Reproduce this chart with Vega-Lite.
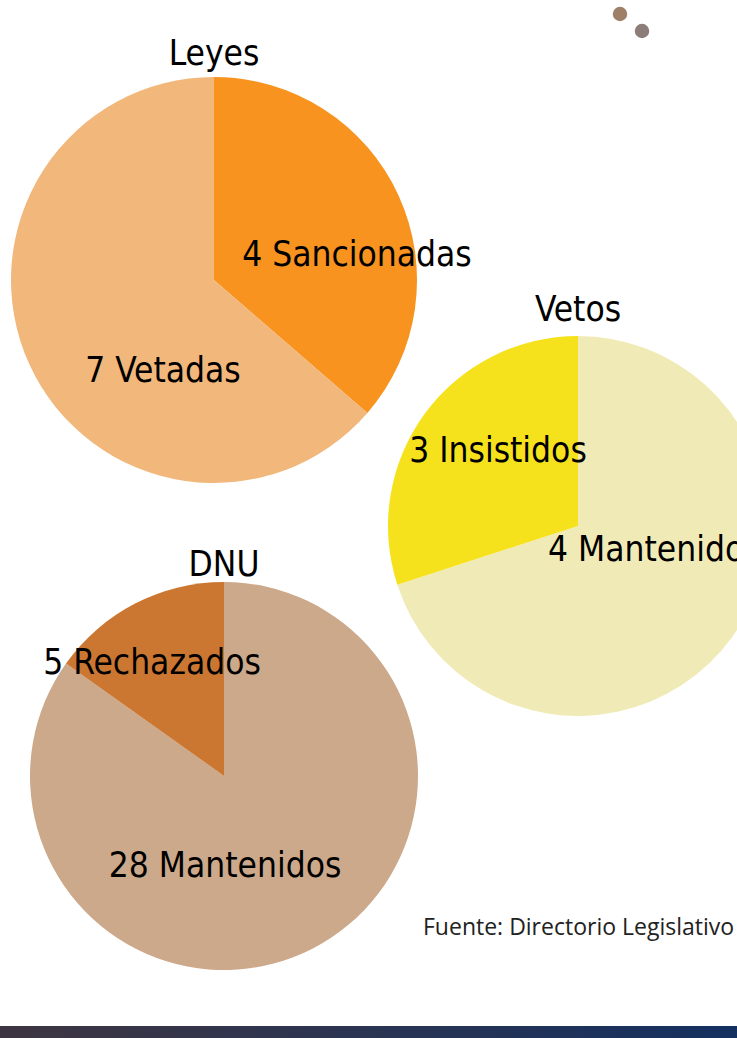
{
  "$schema": "https://vega.github.io/schema/vega-lite/v6.json",
  "width": 737,
  "height": 1038,
  "autosize": "none",
  "padding": 0,
  "background": "#ffffff",
  "config": {
    "view": {"stroke": null},
    "axis": {"disable": true},
    "text": {"font": "DejaVu Sans Condensed, sans-serif", "fontSize": 35, "color": "#000000", "baseline": "alphabetic"}
  },
  "datasets": {
    "tortas": [
      {"grupo": "Leyes", "clave": "Leyes Sancionadas", "etiqueta": "4 Sancionadas", "n": 4, "orden": 1},
      {"grupo": "Leyes", "clave": "Leyes Vetadas", "etiqueta": "7 Vetadas", "n": 7, "orden": 2},
      {"grupo": "Vetos", "clave": "Vetos Mantenidos", "etiqueta": "4 Mantenidos", "n": 7, "orden": 1},
      {"grupo": "Vetos", "clave": "Vetos Insistidos", "etiqueta": "3 Insistidos", "n": 3, "orden": 2},
      {"grupo": "DNU", "clave": "DNU Mantenidos", "etiqueta": "28 Mantenidos", "n": 28, "orden": 1},
      {"grupo": "DNU", "clave": "DNU Rechazados", "etiqueta": "5 Rechazados", "n": 5, "orden": 2}
    ],
    "titulos": [{"t": "Leyes"}, {"t": "Vetos"}, {"t": "DNU"}],
    "nota": [{"t": "Fuente: Directorio Legislativo"}],
    "adorno": [{"id": "a"}]
  },
  "resolve": {"scale": {"theta": "independent"}},
  "layer": [
    {
      "data": {"name": "tortas"},
      "transform": [{"filter": "datum.grupo === 'Leyes'"}],
      "mark": {"type": "arc", "outerRadius": 203},
      "encoding": {
        "x": {"datum": 214, "type": "quantitative", "scale": {"domain": [0, 737], "nice": false, "zero": false}},
        "y": {"datum": 280, "type": "quantitative", "scale": {"domain": [0, 1038], "nice": false, "zero": false, "reverse": true}},
        "theta": {"field": "n", "type": "quantitative", "stack": true},
        "order": {"field": "orden"},
        "color": {"field": "clave", "type": "nominal", "legend": null,
          "scale": {"domain": ["Leyes Sancionadas", "Leyes Vetadas", "Vetos Mantenidos", "Vetos Insistidos", "DNU Mantenidos", "DNU Rechazados"],
                    "range": ["#F7931E", "#F1B77B", "#F0EBB6", "#F6E21C", "#CDA98B", "#CB7732"]}}
      }
    },
    {
      "data": {"name": "tortas"},
      "transform": [{"filter": "datum.grupo === 'Vetos'"}],
      "mark": {"type": "arc", "outerRadius": 190},
      "encoding": {
        "x": {"datum": 578, "type": "quantitative", "scale": {"domain": [0, 737], "nice": false, "zero": false}},
        "y": {"datum": 526, "type": "quantitative", "scale": {"domain": [0, 1038], "nice": false, "zero": false, "reverse": true}},
        "theta": {"field": "n", "type": "quantitative", "stack": true},
        "order": {"field": "orden"},
        "color": {"field": "clave", "type": "nominal", "legend": null}
      }
    },
    {
      "data": {"name": "tortas"},
      "transform": [{"filter": "datum.grupo === 'DNU'"}],
      "mark": {"type": "arc", "outerRadius": 194},
      "encoding": {
        "x": {"datum": 224, "type": "quantitative", "scale": {"domain": [0, 737], "nice": false, "zero": false}},
        "y": {"datum": 776, "type": "quantitative", "scale": {"domain": [0, 1038], "nice": false, "zero": false, "reverse": true}},
        "theta": {"field": "n", "type": "quantitative", "stack": true},
        "order": {"field": "orden"},
        "color": {"field": "clave", "type": "nominal", "legend": null}
      }
    },
    {
      "data": {"name": "titulos"},
      "transform": [{"filter": "datum.t === 'Leyes'"}],
      "mark": {"type": "text", "align": "center"},
      "encoding": {"x": {"datum": 214, "type": "quantitative"}, "y": {"datum": 65, "type": "quantitative"}, "text": {"field": "t"}}
    },
    {
      "data": {"name": "titulos"},
      "transform": [{"filter": "datum.t === 'Vetos'"}],
      "mark": {"type": "text", "align": "center"},
      "encoding": {"x": {"datum": 578, "type": "quantitative"}, "y": {"datum": 321, "type": "quantitative"}, "text": {"field": "t"}}
    },
    {
      "data": {"name": "titulos"},
      "transform": [{"filter": "datum.t === 'DNU'"}],
      "mark": {"type": "text", "align": "center"},
      "encoding": {"x": {"datum": 224, "type": "quantitative"}, "y": {"datum": 576, "type": "quantitative"}, "text": {"field": "t"}}
    },
    {
      "data": {"name": "tortas"},
      "transform": [{"filter": "datum.clave === 'Leyes Sancionadas'"}],
      "mark": {"type": "text", "align": "center"},
      "encoding": {"x": {"datum": 357, "type": "quantitative"}, "y": {"datum": 266, "type": "quantitative"}, "text": {"field": "etiqueta"}}
    },
    {
      "data": {"name": "tortas"},
      "transform": [{"filter": "datum.clave === 'Leyes Vetadas'"}],
      "mark": {"type": "text", "align": "center"},
      "encoding": {"x": {"datum": 163, "type": "quantitative"}, "y": {"datum": 382, "type": "quantitative"}, "text": {"field": "etiqueta"}}
    },
    {
      "data": {"name": "tortas"},
      "transform": [{"filter": "datum.clave === 'Vetos Insistidos'"}],
      "mark": {"type": "text", "align": "center"},
      "encoding": {"x": {"datum": 498, "type": "quantitative"}, "y": {"datum": 462, "type": "quantitative"}, "text": {"field": "etiqueta"}}
    },
    {
      "data": {"name": "tortas"},
      "transform": [{"filter": "datum.clave === 'Vetos Mantenidos'"}],
      "mark": {"type": "text", "align": "left"},
      "encoding": {"x": {"datum": 548, "type": "quantitative"}, "y": {"datum": 561, "type": "quantitative"}, "text": {"field": "etiqueta"}}
    },
    {
      "data": {"name": "tortas"},
      "transform": [{"filter": "datum.clave === 'DNU Rechazados'"}],
      "mark": {"type": "text", "align": "center"},
      "encoding": {"x": {"datum": 152, "type": "quantitative"}, "y": {"datum": 674, "type": "quantitative"}, "text": {"field": "etiqueta"}}
    },
    {
      "data": {"name": "tortas"},
      "transform": [{"filter": "datum.clave === 'DNU Mantenidos'"}],
      "mark": {"type": "text", "align": "center"},
      "encoding": {"x": {"datum": 225, "type": "quantitative"}, "y": {"datum": 877, "type": "quantitative"}, "text": {"field": "etiqueta"}}
    },
    {
      "data": {"name": "nota"},
      "mark": {"type": "text", "align": "left", "font": "Open Sans", "fontSize": 23, "color": "#222222"},
      "encoding": {"x": {"datum": 423, "type": "quantitative"}, "y": {"datum": 935, "type": "quantitative"}, "text": {"field": "t"}}
    },
    {
      "data": {"name": "adorno"},
      "mark": {"type": "point", "filled": true, "size": 210, "color": "#9E8069", "opacity": 1},
      "encoding": {"x": {"datum": 620, "type": "quantitative"}, "y": {"datum": 14, "type": "quantitative"}}
    },
    {
      "data": {"name": "adorno"},
      "mark": {"type": "point", "filled": true, "size": 210, "color": "#8C7D78", "opacity": 1},
      "encoding": {"x": {"datum": 642, "type": "quantitative"}, "y": {"datum": 31, "type": "quantitative"}}
    },
    {
      "data": {"name": "adorno"},
      "mark": {"type": "rect", "color": {"gradient": "linear", "x1": 0, "x2": 1, "y1": 0, "y2": 0,
        "stops": [{"offset": 0, "color": "#3E3541"}, {"offset": 0.5, "color": "#2A3453"}, {"offset": 1, "color": "#14305F"}]}},
      "encoding": {
        "x": {"datum": 0, "type": "quantitative"}, "x2": {"datum": 737},
        "y": {"datum": 1026, "type": "quantitative"}, "y2": {"datum": 1038}
      }
    }
  ]
}
